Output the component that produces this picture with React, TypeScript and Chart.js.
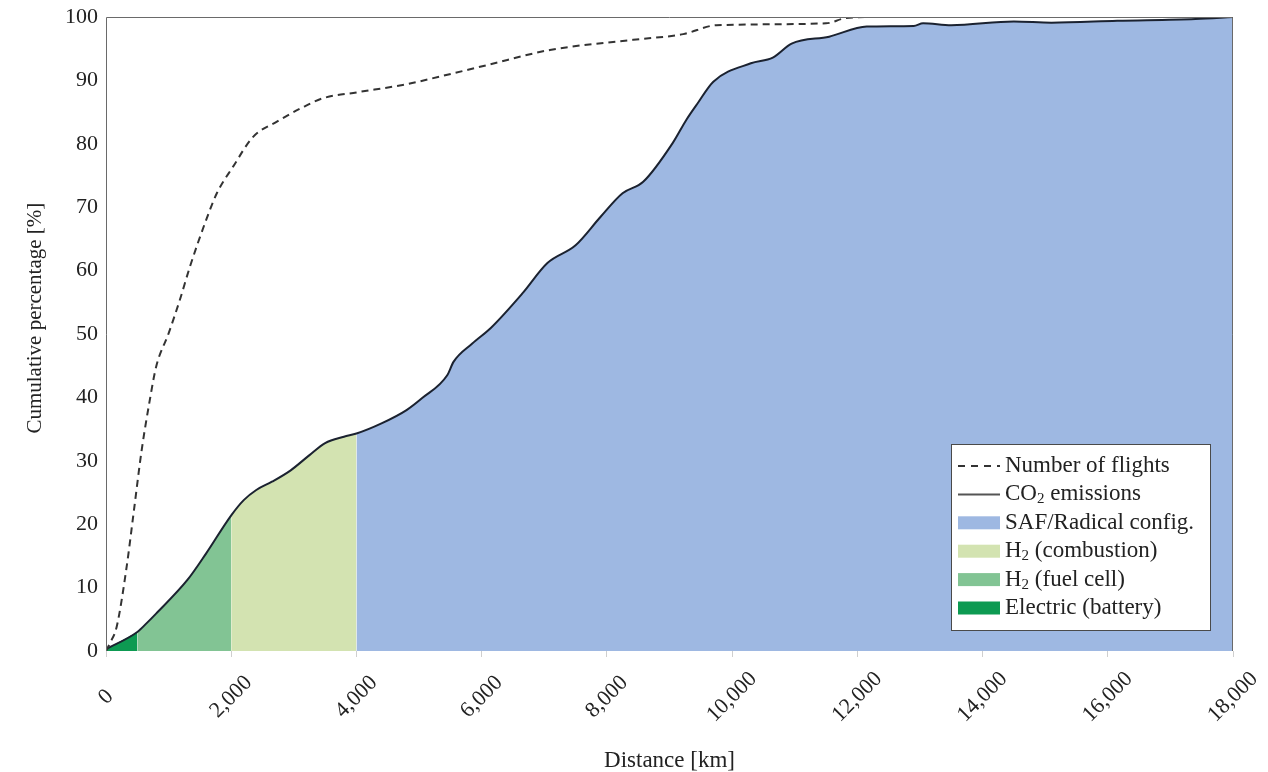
import React, { useEffect, useRef } from "react";
import { Chart, registerables } from "chart.js";

Chart.register(...registerables);

// CO2 emissions cumulative curve
const co2Km = [0, 500, 650, 800, 1300, 1600, 2000, 2200, 2400, 2650, 2950, 3250, 3500, 3800, 4000, 4400, 4800, 5050, 5450, 5550, 5850, 6150, 6650, 7050, 7500, 7900, 8250, 8580, 9050, 9270, 9450, 9700, 10300, 10650, 10950, 11550, 12150, 12900, 13050, 13500, 14500, 15100, 16150, 17400, 18000];
const co2Pct = [0.3, 3.0, 4.4, 5.9, 11.2, 15.4, 21.4, 23.8, 25.4, 26.7, 28.5, 30.9, 32.8, 33.8, 34.3, 35.9, 38.0, 39.9, 43.5, 45.6, 48.5, 51.0, 56.4, 61.2, 64.0, 68.5, 72.2, 74.0, 80.1, 83.8, 86.4, 89.8, 92.7, 93.6, 95.8, 96.9, 98.5, 98.6, 99.0, 98.7, 99.3, 99.1, 99.4, 99.7, 100];

// Number of flights cumulative curve
const flightsKm = [0, 60, 170, 330, 440, 570, 700, 800, 1000, 1180, 1340, 1600, 1770, 2030, 2350, 2730, 3150, 3470, 4000, 4800, 5330, 6080, 7090, 8420, 9220, 9750, 11500, 11800, 12200, 18000];
const flightsPct = [0, 1.2, 3.8, 13.3, 21.7, 31.7, 39.6, 44.8, 50.1, 55.4, 60.6, 68.0, 72.2, 76.4, 81.1, 83.5, 85.8, 87.2, 88.1, 89.4, 90.6, 92.4, 94.8, 96.4, 97.3, 98.7, 99.0, 99.8, 100, 100];

// Technology ranges (km)
const regionNames = ["Electric (battery)", "H2 (fuel cell)", "H2 (combustion)", "SAF/Radical config."];
const regionStart = [0, 500, 2000, 4000];
const regionEnd = [500, 2000, 4000, 18000];
const regionColors = ["#0d9a52", "#82c494", "#d3e3b1", "#9eb8e2"];

const xTicks = [0, 2000, 4000, 6000, 8000, 10000, 12000, 14000, 16000, 18000];
const yTitle = "Cumulative percentage [%]";
const xTitle = "Distance [km]";

const FONT = "'Liberation Serif', 'DejaVu Serif', serif";

const legendPlugin = {
  id: "customLegend",
  afterDraw(chart: any) {
    const { ctx, chartArea } = chart;
    const w = 259;
    const h = 186;
    const x0 = chartArea.right - 23 - w;
    const y0 = chartArea.bottom - 21 - h;
    ctx.save();
    ctx.fillStyle = "#ffffff";
    ctx.fillRect(x0, y0, w, h);
    ctx.strokeStyle = "#4a4a4a";
    ctx.lineWidth = 1;
    ctx.strokeRect(x0 + 0.5, y0 + 0.5, w, h);
    const symX = x0 + 7;
    const symW = 42;
    const textX = x0 + 54;
    const rowY = (i: number) => y0 + 22 + i * 28.4;
    ctx.fillStyle = "#222";
    ctx.textBaseline = "middle";
    ctx.textAlign = "left";
    const drawSub = (parts: [string, boolean][], x: number, y: number) => {
      let cx = x;
      for (const [t, sub] of parts) {
        ctx.font = sub ? `15px ${FONT}` : `23px ${FONT}`;
        ctx.fillText(t, cx, sub ? y + 5 : y);
        cx += ctx.measureText(t).width;
      }
    };
    ctx.strokeStyle = "#333";
    ctx.lineWidth = 2;
    ctx.setLineDash([7, 6]);
    ctx.beginPath();
    ctx.moveTo(symX, rowY(0));
    ctx.lineTo(symX + symW, rowY(0));
    ctx.stroke();
    ctx.setLineDash([]);
    drawSub([["Number of flights", false]], textX, rowY(0));
    ctx.strokeStyle = "#555";
    ctx.beginPath();
    ctx.moveTo(symX, rowY(1));
    ctx.lineTo(symX + symW, rowY(1));
    ctx.stroke();
    drawSub([["CO", false], ["2", true], [" emissions", false]], textX, rowY(1));
    const labels: [string, boolean][][] = [
      [["SAF/Radical config.", false]],
      [["H", false], ["2", true], [" (combustion)", false]],
      [["H", false], ["2", true], [" (fuel cell)", false]],
      [["Electric (battery)", false]],
    ];
    for (let i = 0; i < 4; i++) {
      const idx = 3 - i;
      const y = rowY(2 + i);
      ctx.fillStyle = regionColors[idx];
      ctx.fillRect(symX, y - 6.5, symW, 13);
      ctx.fillStyle = "#222";
      drawSub(labels[i], textX, y);
    }
    ctx.restore();
  },
};

const framePlugin = {
  id: "frame",
  afterDatasetsDraw(chart: any) {
    const { ctx, chartArea } = chart;
    ctx.save();
    ctx.strokeStyle = "#6a6a6a";
    ctx.lineWidth = 1;
    ctx.beginPath();
    ctx.moveTo(chartArea.left + 0.5, chartArea.bottom);
    ctx.lineTo(chartArea.left + 0.5, chartArea.top + 0.5);
    ctx.lineTo(chartArea.right - 0.5, chartArea.top + 0.5);
    ctx.lineTo(chartArea.right - 0.5, chartArea.bottom);
    ctx.stroke();
    ctx.restore();
  },
};

// Rotated x tick labels centred on their tick, and y axis title
const axisTextPlugin = {
  id: "axisText",
  afterDraw(chart: any) {
    const { ctx } = chart;
    const xs = chart.scales.x;
    const cy = xs.top + 46;
    ctx.save();
    ctx.fillStyle = "#222";
    ctx.font = `22px ${FONT}`;
    ctx.textAlign = "center";
    ctx.textBaseline = "middle";
    for (const v of xTicks) {
      const px = xs.getPixelForValue(v);
      ctx.save();
      ctx.translate(px, cy);
      ctx.rotate(-Math.PI / 4);
      ctx.fillText(v.toLocaleString("en-US"), 0, 0);
      ctx.restore();
    }
    const ys = chart.scales.y;
    ctx.font = `21px ${FONT}`;
    ctx.save();
    ctx.translate(35, ys.getPixelForValue(52.5));
    ctx.rotate(-Math.PI / 2);
    ctx.fillText(yTitle, 0, 0);
    ctx.restore();
    ctx.restore();
  },
};

export default function App() {
  const ref = useRef<HTMLCanvasElement | null>(null);
  useEffect(() => {
    if (!ref.current) return;
    const co2Points = co2Km.map((x, i) => ({ x, y: co2Pct[i] }));
    const flightPoints = flightsKm.map((x, i) => ({ x, y: flightsPct[i] }));
    const regionDatasets = regionNames.map((name, r) => ({
      label: name,
      data: co2Points.filter((p) => p.x >= regionStart[r] && p.x <= regionEnd[r]),
      borderWidth: 0,
      borderColor: "rgba(0,0,0,0)",
      backgroundColor: regionColors[r],
      fill: "origin",
      pointRadius: 0,
      cubicInterpolationMode: "monotone",
      order: 10,
    }));
    const chart = new Chart(ref.current, {
      type: "line",
      data: {
        datasets: [
          {
            label: "Number of flights",
            data: flightPoints,
            borderColor: "#333",
            borderWidth: 2,
            borderDash: [7, 5],
            pointRadius: 0,
            fill: false,
            cubicInterpolationMode: "monotone",
            order: 1,
          },
          {
            label: "CO2 emissions",
            data: co2Points,
            borderColor: "#1b2230",
            borderWidth: 2,
            pointRadius: 0,
            fill: false,
            cubicInterpolationMode: "monotone",
            order: 2,
          },
          ...regionDatasets,
        ] as any,
      },
      options: {
        animation: false,
        responsive: true,
        maintainAspectRatio: false,
        layout: { padding: { left: 0, right: 35, top: 17, bottom: 0 } },
        plugins: {
          legend: { display: false },
          tooltip: { enabled: false },
        },
        scales: {
          x: {
            type: "linear",
            min: 0,
            max: 18000,
            afterBuildTicks: (scale: any) => {
              scale.ticks = xTicks.map((v) => ({ value: v }));
            },
            afterFit: (scale: any) => {
              scale.height = 121;
              scale.paddingLeft = 0;
              scale.paddingRight = 0;
            },
            ticks: {
              display: false,
              autoSkip: false,
              callback: (v: any) => Number(v).toLocaleString("en-US"),
            },
            grid: {
              display: true,
              drawOnChartArea: false,
              drawTicks: true,
              tickLength: 6,
              color: "#cfcfcf",
            },
            border: { display: false },
            title: {
              display: true,
              text: xTitle,
              color: "#222",
              font: { family: FONT, size: 23 },
              padding: { top: 0, bottom: -3 },
            },
          },
          y: {
            min: 0,
            max: 100,
            afterFit: (scale: any) => {
              scale.width = 106;
              scale.paddingTop = 0;
              scale.paddingBottom = 0;
            },
            ticks: {
              stepSize: 10,
              padding: 8,
              color: "#222",
              font: { family: FONT, size: 22 },
            },
            grid: { display: false, drawTicks: false },
            border: { display: false },
            title: { display: false, text: yTitle },
          },
        },
      },
      plugins: [framePlugin, axisTextPlugin, legendPlugin],
    });
    return () => chart.destroy();
  }, []);
  return (
    <div style={{ position: "absolute", left: 0, top: 0, width: 1268, height: 772 }}>
      <canvas ref={ref} />
    </div>
  );
}
